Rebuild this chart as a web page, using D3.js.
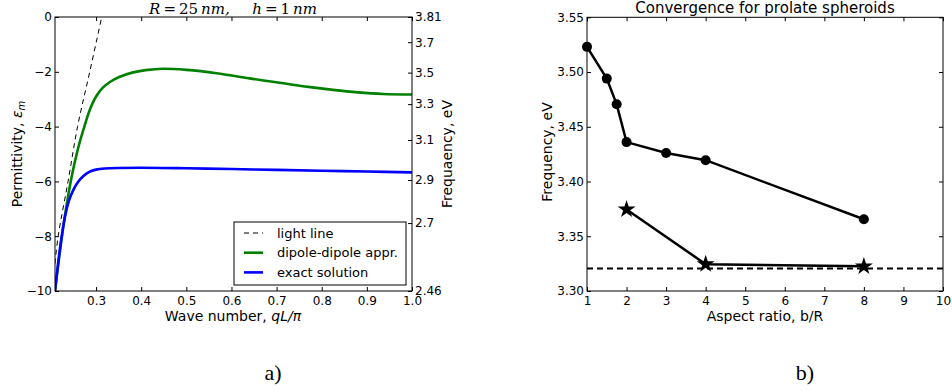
<!DOCTYPE html>
<html>
<head>
<meta charset="utf-8">
<script src="https://cdn.jsdelivr.net/npm/d3@7"></script>
<style>
  body { margin: 0; background: #fff; }
  svg { font-family: "DejaVu Sans", sans-serif; }
</style>
</head>
<body>
<div id="chart"></div>
<script>
// panel a) - permittivity vs wave number
const waveLight = [0.209, 0.216, 0.238, 0.259, 0.286, 0.3126];
const epsLight = [-9.0, -8.0, -6.0, -4.0, -2.0, 0];

const waveDipole = [0.209, 0.22, 0.231, 0.245, 0.26, 0.274, 0.287, 0.3, 0.315, 0.33, 0.35, 0.38, 0.41, 0.448, 0.5, 0.567, 0.64, 0.715, 0.77, 0.825, 0.88, 0.936, 1.0];
const epsDipole = [-10, -8.55, -7.25, -5.9, -4.8, -4.0, -3.35, -2.9, -2.58, -2.38, -2.2, -2.03, -1.94, -1.89, -1.93, -2.05, -2.24, -2.42, -2.55, -2.66, -2.75, -2.81, -2.83];

const waveExact = [0.209, 0.22, 0.231, 0.24, 0.25, 0.26, 0.272, 0.285, 0.3, 0.32, 0.35, 0.4, 0.5, 0.6, 0.7, 0.8, 0.9, 1.0];
const epsExact = [-10, -8.45, -7.3, -6.7, -6.3, -6.02, -5.8, -5.65, -5.57, -5.53, -5.51, -5.5, -5.52, -5.55, -5.58, -5.61, -5.64, -5.67];

const xTicksA = [0.3, 0.4, 0.5, 0.6, 0.7, 0.8, 0.9, 1.0];
const yTicksA = [0, -2, -4, -6, -8, -10];
// right axis: frequency tick labels and the permittivity they sit at
const freqTicks = [2.46, 2.7, 2.9, 3.1, 3.3, 3.5, 3.7, 3.81];
const freqEps = [-10, -7.52, -5.95, -4.49, -3.18, -2.03, -0.92, 0];

// panel b) - convergence
const ratioCircles = [1, 1.5, 1.75, 2, 3, 4, 8];
const freqCircles = [3.523, 3.494, 3.4705, 3.436, 3.426, 3.4195, 3.3655];
const ratioStars = [2, 4, 8];
const freqStars = [3.3745, 3.3245, 3.3225];
const freqLimit = 3.3205;
const xTicksB = [1, 2, 3, 4, 5, 6, 7, 8, 9, 10];
const yTicksB = [3.30, 3.35, 3.40, 3.45, 3.50, 3.55];

const W = 952, H = 391;
const svg = d3.select("#chart").append("svg")
    .attr("width", W)
    .attr("height", H);

function styleAxis(g) {
    g.select(".domain").remove();
    g.selectAll(".tick line").attr("stroke", "#000").attr("stroke-width", 1);
    g.selectAll(".tick text").attr("font-size", 12).attr("fill", "#000")
        .attr("font-family", "DejaVu Sans, sans-serif");
}

// ---------- panel a ----------
const ax = {left: 55, right: 412, top: 17, bottom: 291};
const xA = d3.scaleLinear().domain([0.209, 1.0]).range([ax.left, ax.right]);
const yA = d3.scaleLinear().domain([-10, 0]).range([ax.bottom, ax.top]);
const yF = d3.scaleLinear().domain(freqTicks).range(freqEps.map(yA));

svg.append("defs").append("clipPath").attr("id", "clipA")
    .append("rect")
    .attr("x", ax.left).attr("y", ax.top)
    .attr("width", ax.right - ax.left).attr("height", ax.bottom - ax.top);

const gA = svg.append("g");

gA.append("g")
    .attr("transform", `translate(0,${ax.bottom})`)
    .call(d3.axisBottom(xA).tickValues(xTicksA).tickFormat(d3.format(".1f")).tickSize(-4).tickPadding(5))
    .call(styleAxis);
gA.append("g")
    .attr("transform", `translate(0,${ax.top})`)
    .call(d3.axisTop(xA).tickValues(xTicksA).tickFormat("").tickSize(-4))
    .call(styleAxis);
gA.append("g")
    .attr("transform", `translate(${ax.left},0)`)
    .call(d3.axisLeft(yA).tickValues(yTicksA).tickFormat(d3.format("d")).tickSize(-4).tickPadding(3))
    .call(styleAxis);
gA.append("g")
    .attr("transform", `translate(${ax.right},0)`)
    .call(d3.axisRight(yF).tickValues(freqTicks).tickFormat(d => d === 3.81 || d === 2.46 ? d3.format(".2f")(d) : d3.format(".1f")(d)).tickSize(-4).tickPadding(3))
    .call(styleAxis);

const lineA = (xs, ys) => d3.line()
    .x((d, i) => xA(xs[i]))
    .y((d, i) => yA(ys[i]))
    .curve(d3.curveCatmullRom.alpha(0.5))(xs);

const plotA = gA.append("g").attr("clip-path", "url(#clipA)");
plotA.append("path")
    .attr("d", lineA(waveLight, epsLight))
    .attr("fill", "none").attr("stroke", "#000").attr("stroke-width", 1)
    .attr("stroke-dasharray", "5,4");
plotA.append("path")
    .attr("d", lineA(waveDipole, epsDipole))
    .attr("fill", "none").attr("stroke", "#008000").attr("stroke-width", 2.6);
plotA.append("path")
    .attr("d", lineA(waveExact, epsExact))
    .attr("fill", "none").attr("stroke", "#0000ff").attr("stroke-width", 2.6);

gA.append("rect")
    .attr("x", ax.left).attr("y", ax.top)
    .attr("width", ax.right - ax.left).attr("height", ax.bottom - ax.top)
    .attr("fill", "none").attr("stroke", "#000").attr("stroke-width", 1);

// legend
const legend = gA.append("g").attr("transform", "translate(234,222)");
legend.append("rect").attr("width", 172).attr("height", 63)
    .attr("fill", "#fff").attr("stroke", "#000").attr("stroke-width", 1);
const legendItems = [
    {label: "light line", color: "#000", width: 1, dash: "5,4"},
    {label: "dipole-dipole appr.", color: "#008000", width: 2.6, dash: null},
    {label: "exact solution", color: "#0000ff", width: 2.6, dash: null}
];
legendItems.forEach((d, i) => {
    const yy = 11 + i * 19.7;
    legend.append("line")
        .attr("x1", 10).attr("x2", 29).attr("y1", yy).attr("y2", yy)
        .attr("stroke", d.color).attr("stroke-width", d.width)
        .attr("stroke-dasharray", d.dash);
    legend.append("text")
        .attr("x", 43).attr("y", yy + 4.5)
        .attr("font-size", 13)
        .text(d.label);
});

// titles and labels for a
const titleA = gA.append("text")
    .attr("x", 233).attr("y", 14)
    .attr("text-anchor", "middle")
    .attr("font-size", 15)
    .style("font-family", "'DejaVu Serif', 'Liberation Serif', serif");
titleA.append("tspan").attr("font-style", "italic").text("R");
titleA.append("tspan").text("\u2009=\u200925\u2009");
titleA.append("tspan").attr("font-style", "italic").text("nm,");
titleA.append("tspan").text("\u2003\u2002");
titleA.append("tspan").attr("font-style", "italic").text("h");
titleA.append("tspan").text("\u2009=\u20091\u2009");
titleA.append("tspan").attr("font-style", "italic").text("nm");

const xlabA = gA.append("text")
    .attr("x", 233).attr("y", 321)
    .attr("text-anchor", "middle")
    .attr("font-size", 14);
xlabA.append("tspan").text("Wave number, ");
xlabA.append("tspan").attr("font-style", "italic").text("qL/\u03c0");

const ylabA = gA.append("text")
    .attr("transform", "translate(22,154) rotate(-90)")
    .attr("text-anchor", "middle")
    .attr("font-size", 14);
ylabA.append("tspan").text("Permittivity, ");
ylabA.append("tspan").attr("font-style", "italic").text("\u03b5");
ylabA.append("tspan").attr("font-style", "italic").attr("font-size", 10).attr("dy", 3).text("m");

gA.append("text")
    .attr("transform", "translate(452,154) rotate(-90)")
    .attr("text-anchor", "middle")
    .attr("font-size", 14)
    .text("Frequaency, eV");

// ---------- panel b ----------
const bx = {left: 587, right: 943, top: 17.3, bottom: 291};
const xB = d3.scaleLinear().domain([1, 10]).range([bx.left, bx.right]);
const yB = d3.scaleLinear().domain([3.30, 3.55]).range([bx.bottom, bx.top]);
const gB = svg.append("g");

gB.append("g")
    .attr("transform", `translate(0,${bx.bottom})`)
    .call(d3.axisBottom(xB).tickValues(xTicksB).tickFormat(d3.format("d")).tickSize(-4).tickPadding(5))
    .call(styleAxis);
gB.append("g")
    .attr("transform", `translate(0,${bx.top})`)
    .call(d3.axisTop(xB).tickValues(xTicksB).tickFormat("").tickSize(-4))
    .call(styleAxis);
gB.append("g")
    .attr("transform", `translate(${bx.left},0)`)
    .call(d3.axisLeft(yB).tickValues(yTicksB).tickFormat(d3.format(".2f")).tickSize(-4).tickPadding(3))
    .call(styleAxis);
gB.append("g")
    .attr("transform", `translate(${bx.right},0)`)
    .call(d3.axisRight(yB).tickValues(yTicksB).tickFormat("").tickSize(-4))
    .call(styleAxis);

const lineB = d3.line().x(d => xB(d[0])).y(d => yB(d[1]));

gB.append("line")
    .attr("x1", xB(1)).attr("x2", xB(10))
    .attr("y1", yB(freqLimit)).attr("y2", yB(freqLimit))
    .attr("stroke", "#000").attr("stroke-width", 2)
    .attr("stroke-dasharray", "6,4");

const circlePts = ratioCircles.map((r, i) => [r, freqCircles[i]]);
const starPts = ratioStars.map((r, i) => [r, freqStars[i]]);

gB.append("path").attr("d", lineB(circlePts))
    .attr("fill", "none").attr("stroke", "#000").attr("stroke-width", 2.5);
gB.selectAll("circle.pt").data(circlePts).join("circle")
    .attr("class", "pt")
    .attr("cx", d => xB(d[0])).attr("cy", d => yB(d[1]))
    .attr("r", 5).attr("fill", "#000");

gB.append("path").attr("d", lineB(starPts))
    .attr("fill", "none").attr("stroke", "#000").attr("stroke-width", 2.5);
gB.selectAll("path.star").data(starPts).join("path")
    .attr("class", "star")
    .attr("transform", d => `translate(${xB(d[0])},${yB(d[1])})`)
    .attr("d", d3.symbol(d3.symbolStar, 100))
    .attr("fill", "#000");

gB.append("rect")
    .attr("x", bx.left).attr("y", bx.top)
    .attr("width", bx.right - bx.left).attr("height", bx.bottom - bx.top)
    .attr("fill", "none").attr("stroke", "#000").attr("stroke-width", 1);

gB.append("text")
    .attr("x", 765).attr("y", 13)
    .attr("text-anchor", "middle")
    .attr("font-size", 15)
    .text("Convergence for prolate spheroids");
gB.append("text")
    .attr("x", 765).attr("y", 321)
    .attr("text-anchor", "middle")
    .attr("font-size", 14)
    .text("Aspect ratio, b/R");
gB.append("text")
    .attr("transform", "translate(552,152) rotate(-90)")
    .attr("text-anchor", "middle")
    .attr("font-size", 14)
    .text("Frequency, eV");

// panel captions
svg.append("text")
    .attr("x", 273).attr("y", 380)
    .attr("text-anchor", "middle")
    .style("font-family", "'Liberation Serif', 'Times New Roman', serif")
    .attr("font-size", 22)
    .text("a)");
svg.append("text")
    .attr("x", 805).attr("y", 380)
    .attr("text-anchor", "middle")
    .style("font-family", "'Liberation Serif', 'Times New Roman', serif")
    .attr("font-size", 22)
    .text("b)");
</script>
</body>
</html>
